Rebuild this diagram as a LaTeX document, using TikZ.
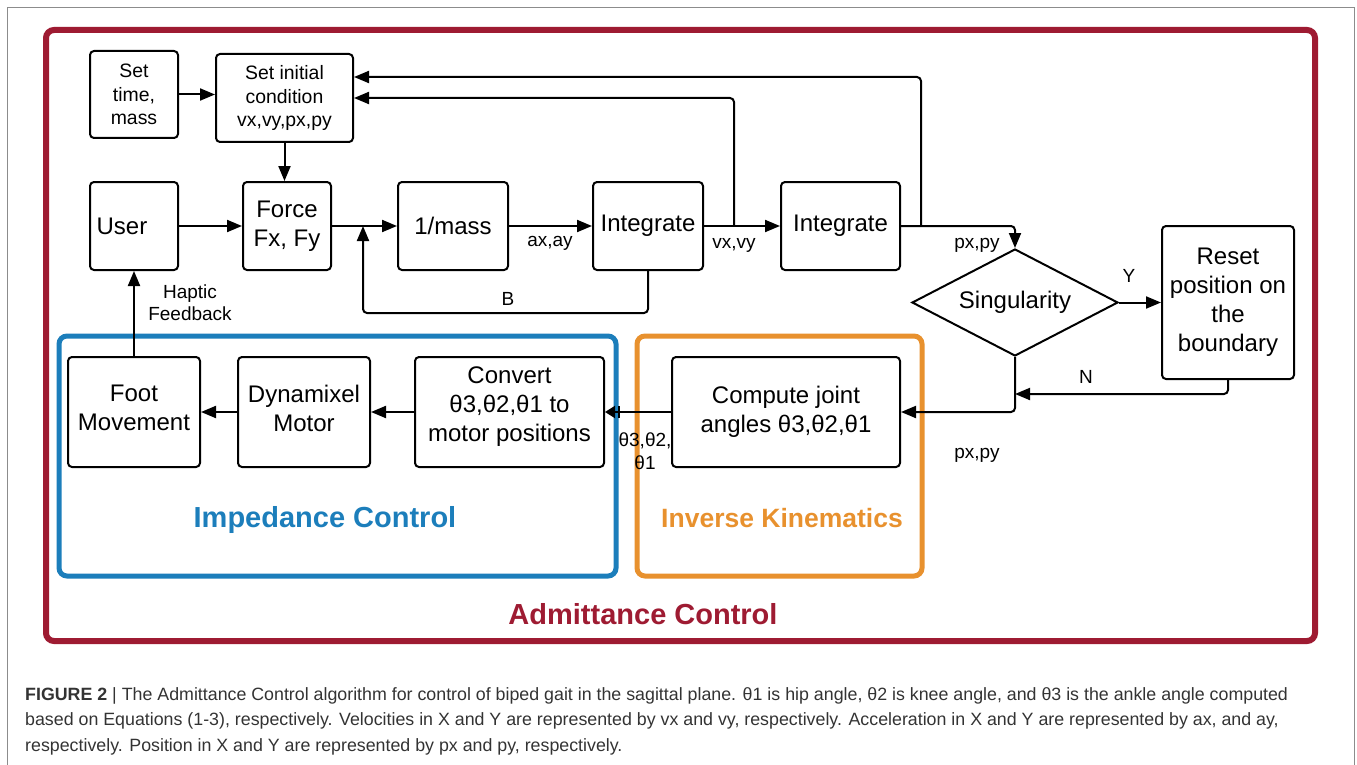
\documentclass[tikz,border=0pt]{standalone}
\usepackage{fontspec}
\setmainfont{Liberation Sans}
\usetikzlibrary{arrows.meta,shapes.geometric}
\definecolor{admred}{HTML}{9E1B32}
\definecolor{impblue}{HTML}{1C7EBB}
\definecolor{ikorange}{HTML}{E8912E}
\definecolor{framegray}{HTML}{8C8C8C}
\definecolor{captext}{HTML}{333333}
\begin{document}
\begin{tikzpicture}[x=1pt,y=-1pt,
  box/.style={draw, line width=2pt, rounded corners=4pt, align=center, inner sep=0pt, font=\fontsize{24}{29}\selectfont},
  smallbox/.style={box, font=\fontsize{19.4}{23.5}\selectfont},
  lbl/.style={font=\fontsize{19}{23}\selectfont, align=center, inner sep=0pt},
  arr/.style={line width=2pt, -{Triangle[length=15pt,width=12pt]}, rounded corners=4pt},
  frame/.style={line width=5pt, rounded corners=8pt},
  titletext/.style={font=\fontsize{29}{34}\selectfont\bfseries, inner sep=0pt},
  captionline/.style={anchor=base west, inner sep=0pt, font=\fontsize{17.8}{20}\selectfont, text=captext}
]
\useasboundingbox (0,0) rectangle (1357,765);
% outer frame
\draw[framegray, line width=1pt] (7,770) -- (7,8) -- (1354,8) -- (1354,770);
% coloured frames
\draw[frame, admred, line width=6pt] (46,30) rectangle (1315,641);
\draw[frame, impblue] (59,336) rectangle (616,576);
\draw[frame, ikorange] (637,336) rectangle (922,576);
\node[titletext, text=impblue] (imptitle) at (325,520) {Impedance Control};
\node[titletext, text=ikorange, font=\fontsize{26.5}{32}\selectfont\bfseries] (iktitle) at (782,518) {Inverse Kinematics};
\node[titletext, text=admred] (admtitle) at (643,614) {Admittance Control};

% boxes
\node[smallbox, minimum width=88pt, minimum height=87pt] (settime) at (134,94.5) {Set\\time,\\mass};
\node[smallbox, minimum width=137pt, minimum height=88pt] (setinit) at (284.5,98) {Set initial\\condition\\vx,vy,px,py};
\node[box, minimum width=88pt, minimum height=88pt] (user) at (134,226) {User\hspace*{24pt}};
\node[box, minimum width=88pt, minimum height=88pt] (force) at (287,226) {Force\\Fx, Fy};
\node[box, minimum width=110pt, minimum height=88pt] (mass) at (453,226) {1/mass};
\node[box, minimum width=110pt, minimum height=88pt] (int1) at (648,226) {Integrate};
\node[box, minimum width=119pt, minimum height=88pt] (int2) at (840.5,226) {Integrate};
\node[draw, diamond, shape aspect=1.93, minimum width=206pt, minimum height=107pt, inner sep=0pt, line width=2pt, font=\fontsize{24}{29}\selectfont] (sing) at (1015,302.5) {Singularity};
\node[box, minimum width=132pt, minimum height=153pt] (reset) at (1228,302.5) {Reset\\position on\\the\\boundary};
\node[box, minimum width=132pt, minimum height=110pt] (foot) at (134,412) {Foot\\Movement\\[-21pt]\mbox{}};
\node[box, minimum width=132pt, minimum height=110pt] (dyn) at (304,412) {Dynamixel\\Motor\\[-21pt]\mbox{}};
\node[box, minimum width=189pt, minimum height=110pt] (conv) at (509.5,412) {Convert\\θ3,θ2,θ1 to\\motor positions\\[-13pt]\mbox{}};
\node[box, minimum width=228pt, minimum height=110pt] (comp) at (786,412) {Compute joint\\angles θ3,θ2,θ1\\[-24pt]\mbox{}};

% junction coordinates
\coordinate (j1) at (363,226);
\coordinate (j2) at (734,226);
\coordinate (j3) at (921,226);
\coordinate (bfb) at (363,313);
\coordinate (j4) at (1015,394);

% connectors
\draw[arr] (settime) -- (settime -| setinit.west);
\draw[arr] (setinit.south) -- (setinit.south |- force.north);
\draw[arr] (user) -- (force);
\draw[arr] (force) -- (mass);
\draw[arr] (mass) -- (int1);
\draw[arr] (int1) -- (int2);
\draw[arr] (j2) |- (setinit.east);
\draw[arr] (j3) |- ([yshift=21pt]setinit.east);
\draw[arr] (int2.east) -| (sing.north);
\draw[arr] (int1.south) |- (bfb) -- (j1);
\draw[arr] (sing) -- (reset);
\draw[arr] (reset.south) |- (j4);
\draw[arr] (sing.south) |- (comp.east);
\draw[line width=2pt, -{Bar[width=12pt,line width=1.5pt,sep=3pt]Triangle[length=10pt,width=12pt]}] (comp) -- (conv);
\draw[arr] (conv) -- (dyn);
\draw[arr] (dyn) -- (foot);
\draw[arr] (foot) -- (user);

% labels
\node[lbl] (lax) at (550,243) {ax,ay};
\node[lbl] (lvx) at (734,245) {vx,vy};
\node[lbl] (lpx) at (977,245) {px,py};
\node[lbl] (lB) at (508,299) {B};
\node[lbl] (lY) at (1129,276) {Y};
\node[lbl] (lN) at (1086,377) {N};
\node[lbl] (lpx2) at (977,455) {px,py};
\node[lbl] (lth) at (645,451.5) {θ3,θ2,\\θ1};
\node[lbl, font=\fontsize{19}{22}\selectfont] (lhap) at (190,303) {Haptic\\Feedback};

% caption
\node[captionline] (cap1) at (25,700) {\textbf{FIGURE 2} | The Admittance Control algorithm for control of biped gait in the sagittal plane. θ1 is hip angle, θ2 is knee angle, and θ3 is the ankle angle computed};
\node[captionline] (cap2) at (25,725.5) {based on Equations (1-3), respectively. Velocities in X and Y are represented by vx and vy, respectively. Acceleration in X and Y are represented by ax, and ay,};
\node[captionline] (cap3) at (25,751) {respectively. Position in X and Y are represented by px and py, respectively.};
\end{tikzpicture}
\end{document}
